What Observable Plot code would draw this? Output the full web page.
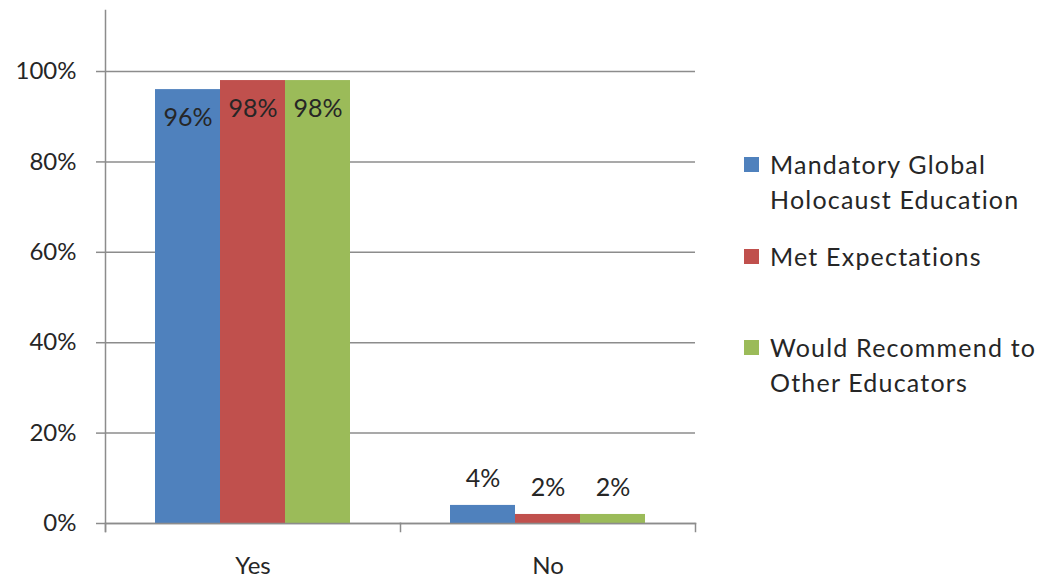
<!DOCTYPE html>
<html>
<head>
<meta charset="utf-8">
<script src="https://cdn.jsdelivr.net/npm/d3@7"></script>
<script src="https://cdn.jsdelivr.net/npm/@observablehq/plot@0.6"></script>
<style>
  body { margin: 0; background: #fff; }
  #wrap { position: relative; width: 1046px; height: 578px; font-family: Lato, sans-serif; color: #262626; }
  #legend { position: absolute; left: 744px; top: 0; }
  .entry { position: absolute; left: 0; width: 300px; }
  .sw { position: absolute; left: 0; width: 15px; height: 15px; }
  .lab { position: absolute; left: 26px; font-size: 25px; letter-spacing: 1.2px; line-height: 35px; white-space: nowrap; }
</style>
</head>
<body>
<div id="wrap"><div id="legend"></div></div>
<script>
const categories = ["Yes", "No"];
const series = ["Mandatory Global Holocaust Education", "Met Expectations", "Would Recommend to Other Educators"];
const legendLines = [["Mandatory Global", "Holocaust Education"], ["Met Expectations"], ["Would Recommend to", "Other Educators"]];
const mandatory = [0.96, 0.04];
const met = [0.98, 0.02];
const recommend = [0.98, 0.02];
const colors = ["#4F81BD", "#C0504D", "#9BBB59"];
const yTicks = [0, 0.2, 0.4, 0.6, 0.8, 1.0];

const valuesBySeries = [mandatory, met, recommend];
const table = [];
categories.forEach((c, i) => series.forEach((s, j) => table.push({category: c, series: s, value: valuesBySeries[j][i]})));

const fmt = d3.format(".0%");
const axisGray = "#8c8c8c";

const chart = Plot.plot({
  width: 1046,
  height: 578,
  marginLeft: 104,
  marginRight: 351,
  marginTop: 10,
  marginBottom: 55,
  style: {fontFamily: "Lato, sans-serif", fontSize: "24px", color: "#262626", background: "transparent"},
  fx: {domain: categories, padding: 0, label: null},
  x: {domain: series, paddingInner: 0, paddingOuter: 0.76, axis: null},
  y: {domain: [0, 1.135]},
  color: {domain: series, range: colors},
  marks: [
    Plot.gridY(yTicks, {stroke: axisGray, strokeOpacity: 1, strokeWidth: 1.5}),
    Plot.barY(table, {fx: "category", x: "series", y: "value", fill: "series"}),
    Plot.text(table, {filter: d => d.value > 0.5, fx: "category", x: "series", y: "value", text: d => fmt(d.value), dy: 28, fontSize: 25, fill: "#262626"}),
    Plot.text(table, {filter: d => d.value <= 0.5, fx: "category", x: "series", y: "value", text: d => fmt(d.value), dy: -26, fontSize: 25, fill: "#262626"}),
    Plot.axisY(yTicks, {tickSize: 9, tickPadding: 20, tickFormat: fmt, stroke: axisGray, strokeWidth: 1.5, label: null}),
    Plot.frame({anchor: "left", facetAnchor: "left", insetBottom: -8, stroke: axisGray, strokeWidth: 1.5}),
    Plot.frame({anchor: "bottom", stroke: axisGray, strokeWidth: 1.5}),
    Plot.frame({anchor: "left", insetTop: 513, insetBottom: -8, stroke: axisGray, strokeWidth: 1.5}),
    Plot.frame({anchor: "right", facetAnchor: "right", insetTop: 513, insetBottom: -8, stroke: axisGray, strokeWidth: 1.5}),
    Plot.axisFx({anchor: "bottom", tickSize: 0, tickPadding: 33, label: null})
  ]
});
document.getElementById("wrap").prepend(chart);

const legend = d3.select("#legend");
const entryTops = [147, 239, 330];
series.forEach((s, i) => {
  const e = legend.append("div").attr("class", "entry").style("top", entryTops[i] + "px");
  e.append("div").attr("class", "sw").style("top", "10px").style("background", colors[i]);
  legendLines[i].forEach((t, k) => {
    e.append("div").attr("class", "lab").style("top", (k * 35) + "px").text(t);
  });
});
</script>
</body>
</html>
